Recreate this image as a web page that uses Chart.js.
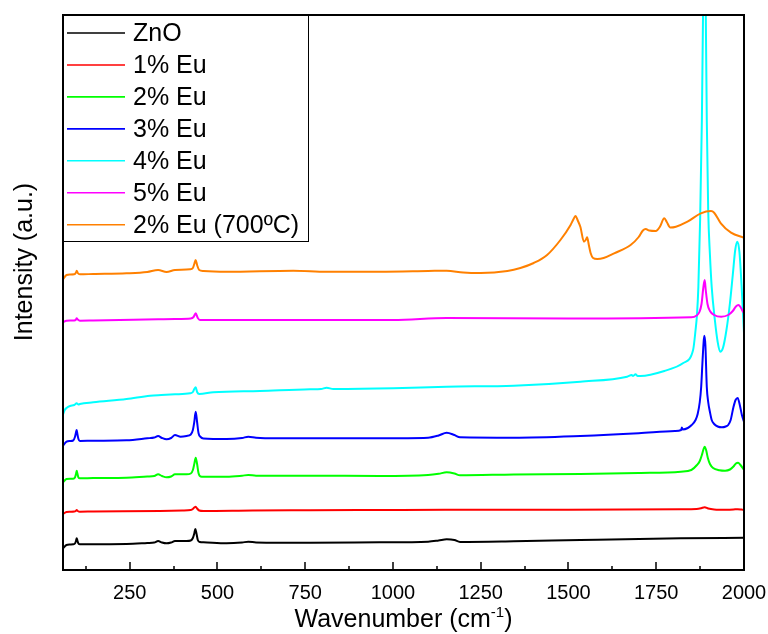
<!DOCTYPE html>
<html>
<head>
<meta charset="utf-8">
<title>Raman spectra</title>
<script src="https://cdn.jsdelivr.net/npm/chart.js@4/dist/chart.umd.min.js"></script>
<style>
  html, body { margin: 0; padding: 0; background: #ffffff; }
  #wrap { width: 768px; height: 634px; position: relative; }
</style>
</head>
<body>
<div id="wrap"><canvas id="chart"></canvas></div>
<script>
// Raman spectra of ZnO and Eu-doped ZnO, curves offset vertically (arbitrary units)

const seriesNames  = ['ZnO', '1% Eu', '2% Eu', '3% Eu', '4% Eu', '5% Eu', '2% Eu (700ºC)'];
const seriesColors = ['#000000', '#ff0000', '#00ff00', '#0000ff', '#00ffff', '#ff00ff', '#ff8000'];

// x-axis tick values (cm-1)
const majorTicks = [250, 500, 750, 1000, 1250, 1500, 1750, 2000];
const minorTicks = [125, 375, 625, 875, 1125, 1375, 1625, 1875];

// ZnO
const waveZnO = [60, 70, 80, 89, 94, 97, 99, 101, 104, 108, 146, 241, 300, 320, 331, 342, 355, 368, 379, 395,
  412, 424, 430, 434, 437, 440, 444, 450, 460, 526, 570, 588, 610, 764, 962, 1100, 1130, 1153, 1175, 1191,
  1344, 1534, 1820, 2000];
const intZnO = [21.7, 25, 25.5, 25.7, 26.5, 29, 31.7, 29.5, 26.5, 25.7, 25.8, 26, 27, 27.5, 29, 27.5, 26.7, 27.5, 29, 29,
  29, 29.5, 32, 36.5, 41, 37, 30, 28, 27.7, 26.7, 27.5, 28.3, 27.6, 27.3, 27.7, 28.3, 29.5, 30.7, 30, 28,
  28.7, 30, 31.7, 32.3];

// 1% Eu
const wave1Eu = [60, 70, 80, 92, 97, 99, 102, 108, 146, 336, 400, 424, 430, 434, 438, 442, 448, 460, 600, 764,
  962, 1150, 1500, 1820, 1865, 1878, 1888, 1898, 1915, 1950, 1970, 1982, 1993, 2000];
const int1Eu = [56, 58, 58.3, 58.5, 59.3, 60, 59, 58.3, 58.5, 59, 59.5, 60, 61, 62.5, 63.3, 61.5, 59.5, 59, 59.5, 59.7,
  60, 60.3, 60.3, 60.7, 61, 61.8, 62.8, 61.5, 60.6, 60.3, 60.5, 60.8, 60.4, 60];

// 2% Eu
const wave2Eu = [60, 70, 80, 89, 94, 97, 99, 101, 104, 108, 146, 241, 300, 320, 331, 342, 355, 368, 379, 395,
  412, 424, 430, 434, 438, 442, 446, 452, 460, 526, 570, 588, 610, 764, 962, 1100, 1130, 1153, 1175, 1191,
  1344, 1534, 1700, 1820, 1850, 1866, 1874, 1880, 1884, 1888, 1892, 1897, 1903, 1912, 1930, 1946, 1960, 1970, 1977, 1983,
  1990, 2000];
const int2Eu = [87.7, 91, 91.3, 91.3, 92.5, 96, 99.3, 96.5, 92.5, 91.7, 92, 92.3, 93.5, 94, 95.7, 94, 92.7, 93.5, 95.7, 95.7,
  95.7, 96.5, 100, 106, 112.3, 106, 97, 93.5, 93.3, 93.3, 94.3, 95, 94.3, 94.3, 94, 95, 96.2, 97.7, 96.5, 94.7,
  95.5, 96, 97, 98.3, 100, 105, 109, 115, 120, 123.3, 120, 112, 106, 102, 99.8, 99.3, 100.5, 103.5, 106.5, 107.3,
  105, 100];

// 3% Eu
const wave3Eu = [60, 70, 80, 89, 94, 97, 99, 101, 104, 108, 146, 241, 300, 320, 331, 342, 355, 368, 379, 395,
  412, 424, 430, 434, 438, 442, 446, 452, 460, 526, 570, 588, 610, 669, 764, 962, 1100, 1130, 1153, 1175,
  1191, 1344, 1534, 1700, 1803, 1821, 1823, 1825, 1840, 1851, 1862, 1868, 1874, 1878, 1882, 1885, 1887, 1890, 1894, 1898,
  1903, 1908, 1915, 1925, 1937, 1948, 1955, 1962, 1970, 1976, 1982, 1988, 1994, 2000];
const int3Eu = [124.3, 128.3, 129, 129.5, 133, 137.5, 140, 136, 131, 129, 129.3, 129.7, 131.7, 132.5, 134, 132, 130.7, 132, 135, 133.3,
  134, 135.5, 140, 148, 158.3, 148, 137, 133, 131.5, 131, 132, 133.3, 132.3, 131.7, 131.7, 131.7, 132.3, 134.5, 137.3, 135,
  132.7, 132.3, 134, 136.7, 139, 140, 142.5, 140.5, 142, 145, 150, 156, 168, 183, 210, 228, 234.3, 225, 183, 168,
  158, 150, 146, 143.5, 142.7, 143.5, 145, 150, 163, 170, 172, 165, 155, 148.3];

// 4% Eu
const wave4Eu = [60, 65, 70, 80, 92, 99, 104, 108, 146, 241, 308, 340, 379, 422, 430, 434, 438, 442, 448, 488,
  621, 764, 795, 811, 830, 1001, 1153, 1344, 1534, 1667, 1680, 1684, 1691, 1697, 1705, 1773, 1827, 1855, 1862, 1866,
  1870, 1875, 1880, 1884, 1887, 1890, 1894, 1898, 1903, 1908, 1917, 1925, 1932, 1940, 1950, 1960, 1968, 1975, 1981, 1987,
  1993, 2000];
const int4Eu = [155.7, 160, 162, 164, 165, 166.7, 165.5, 166, 167.7, 171, 174.3, 175, 175.7, 176.7, 178, 181, 182.7, 178, 176, 177.7,
  179, 180.7, 181, 182.3, 181, 181.7, 183.3, 184.3, 188.3, 193.3, 195, 194, 195.7, 194, 194, 199, 207, 220, 240, 255,
  283, 350, 450, 580, 690, 600, 450, 360, 315, 283, 250, 228, 218.3, 222, 240, 267, 295, 320, 328.3, 318,
  285, 237];

// 5% Eu
const wave5Eu = [60, 70, 80, 92, 97, 99, 102, 108, 146, 331, 379, 424, 432, 438, 444, 450, 600, 1001, 1153, 1500,
  1850, 1865, 1873, 1879, 1884, 1888, 1891, 1896, 1903, 1915, 1935, 1955, 1968, 1977, 1984, 1990, 1996, 2000];
const int5Eu = [247.7, 249.3, 249.5, 249.5, 250.5, 251.7, 250.5, 249.3, 249.5, 250.7, 251, 251.5, 253, 256.7, 252, 250, 250, 250, 252, 251.5,
  252.7, 254.5, 258, 266, 282, 290, 280, 266, 259, 255, 253.3, 255, 259, 263.5, 265, 263, 259, 257];

// 2% Eu annealed at 700 ºC
const wave2Eu700 = [60, 70, 80, 92, 97, 99, 102, 108, 146, 241, 300, 331, 355, 379, 422, 430, 434, 438, 442, 448,
  460, 526, 716, 811, 962, 1100, 1153, 1200, 1250, 1326, 1363, 1401, 1439, 1477, 1506, 1513, 1520, 1527, 1534, 1544,
  1549, 1553, 1558, 1563, 1570, 1582, 1600, 1630, 1677, 1700, 1712, 1720, 1730, 1749, 1760, 1773, 1780, 1790, 1806, 1839,
  1877, 1906, 1915, 1934, 1963, 2000];
const int2Eu700 = [290.7, 295, 295.5, 295.7, 297.5, 299.3, 297, 295.7, 296, 296.7, 298, 300, 298, 300, 300.7, 302, 306, 310, 305, 300,
  299, 298.3, 299.3, 298.3, 298.3, 299, 299.3, 297.5, 297, 299, 302, 307, 315, 330, 345, 350, 354, 349, 343, 328.3,
  330, 332.7, 325, 317, 312, 311, 312, 316.7, 325, 333, 339.5, 341, 339.5, 339, 343, 351.7, 348, 342.5, 343.3, 348.3,
  356.7, 359, 357.3, 346.7, 337.3, 332.3];

const waves = [waveZnO, wave1Eu, wave2Eu, wave3Eu, wave4Eu, wave5Eu, wave2Eu700];
const intensities = [intZnO, int1Eu, int2Eu, int3Eu, int4Eu, int5Eu, int2Eu700];

const FONT = '"Liberation Sans", Arial, Helvetica, sans-serif';

const datasets = seriesNames.map((name, i) => ({
  label: name,
  data: waves[i].map((w, k) => ({ x: w, y: intensities[i][k] })),
  borderColor: seriesColors[i],
  backgroundColor: seriesColors[i],
  borderWidth: 2,
  pointRadius: 0,
  fill: false,
  cubicInterpolationMode: 'monotone',
  order: -i
}));

// frame, inward tick marks, inset legend and axis titles
const decorations = {
  id: 'decorations',
  afterDraw(chart) {
    const ctx = chart.ctx;
    const a = chart.chartArea;
    const xs = chart.scales.x;
    ctx.save();

    // tick marks pointing into the plot from the bottom axis
    ctx.strokeStyle = '#000';
    ctx.lineWidth = 1.5;
    ctx.beginPath();
    majorTicks.forEach(v => {
      const px = Math.round(xs.getPixelForValue(v));
      ctx.moveTo(px, a.bottom); ctx.lineTo(px, a.bottom - 8);
    });
    minorTicks.forEach(v => {
      const px = Math.round(xs.getPixelForValue(v));
      ctx.moveTo(px, a.bottom); ctx.lineTo(px, a.bottom - 4);
    });
    ctx.stroke();

    // legend box in the top-left corner
    const lx = a.left, ly = a.top, lw = 245, lh = 226;
    ctx.fillStyle = '#fff';
    ctx.fillRect(lx, ly, lw, lh);
    ctx.lineWidth = 1;
    ctx.strokeStyle = '#000';
    ctx.strokeRect(lx + 0.5, ly + 0.5, lw, lh);
    ctx.font = '25px ' + FONT;
    ctx.textBaseline = 'middle';
    ctx.textAlign = 'left';
    chart.data.datasets.forEach((ds, i) => {
      const yy = ly + 18 + i * 31.95;
      ctx.strokeStyle = ds.borderColor;
      ctx.lineWidth = 1.6;
      ctx.beginPath();
      ctx.moveTo(lx + 4, yy); ctx.lineTo(lx + 62, yy);
      ctx.stroke();
      ctx.fillStyle = '#000';
      ctx.fillText(ds.label, lx + 70, yy + 1);
    });

    // plot frame
    ctx.strokeStyle = '#000';
    ctx.lineWidth = 2;
    ctx.strokeRect(a.left, a.top, a.right - a.left, a.bottom - a.top);

    // y-axis title
    ctx.fillStyle = '#000';
    ctx.save();
    ctx.translate(25, 262);
    ctx.rotate(-Math.PI / 2);
    ctx.font = '25px ' + FONT;
    ctx.textAlign = 'center';
    ctx.textBaseline = 'middle';
    ctx.fillText('Intensity (a.u.)', 0, 0);
    ctx.restore();

    // x-axis title with superscript
    const main1 = 'Wavenumber (cm', sup = '-1', main2 = ')';
    ctx.textBaseline = 'alphabetic';
    ctx.textAlign = 'left';
    ctx.font = '25px ' + FONT;
    const w1 = ctx.measureText(main1).width;
    const w3 = ctx.measureText(main2).width;
    ctx.font = '15px ' + FONT;
    const w2 = ctx.measureText(sup).width;
    const total = w1 + w2 + w3;
    let x0 = (a.left + a.right) / 2 - total / 2;
    const base = 627;
    ctx.font = '25px ' + FONT;
    ctx.fillText(main1, x0, base);
    ctx.font = '15px ' + FONT;
    ctx.fillText(sup, x0 + w1, base - 10);
    ctx.font = '25px ' + FONT;
    ctx.fillText(main2, x0 + w1 + w2, base);

    ctx.restore();
  }
};

new Chart(document.getElementById('chart'), {
  type: 'line',
  data: { datasets },
  options: {
    responsive: true,
    maintainAspectRatio: false,
    animation: false,
    layout: { padding: { left: 63, right: 24, top: 15, bottom: 0 } },
    plugins: { legend: { display: false }, tooltip: { enabled: false } },
    scales: {
      x: {
        type: 'linear',
        min: 60,
        max: 2000,
        afterBuildTicks: s => { s.ticks = majorTicks.map(v => ({ value: v })); },
        afterFit: s => { s.height = 64; s.paddingLeft = 0; s.paddingRight = 0; },
        ticks: {
          font: { family: FONT, size: 20 },
          color: '#000',
          padding: 11,
          maxRotation: 0,
          autoSkip: false,
          callback: v => String(v)
        },
        grid: { display: false, drawTicks: false },
        border: { display: false }
      },
      y: {
        display: false,
        min: 0,
        max: 555
      }
    }
  },
  plugins: [decorations]
});
</script>
</body>
</html>
